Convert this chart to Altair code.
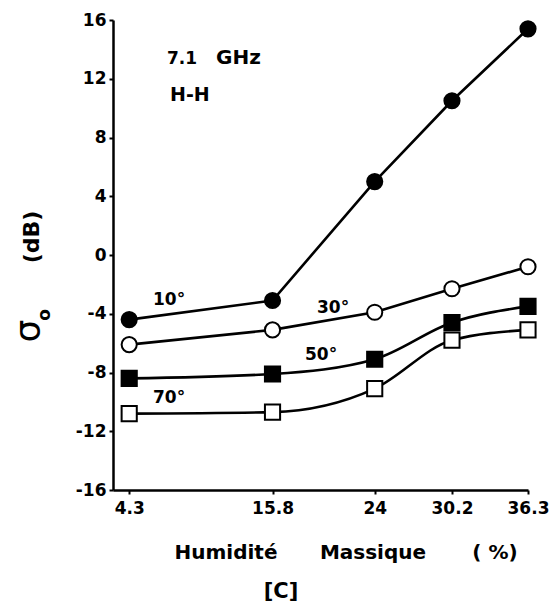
import altair as alt
import pandas as pd

# Data
x_vals = [4.3, 15.8, 24, 30.2, 36.3]
s10 = [-4.4, -3.1, 5.0, 10.5, 15.4]
s30 = [-6.1, -5.1, -3.9, -2.3, -0.8]
s50 = [-8.4, -8.1, -7.1, -4.6, -3.5]
s70 = [-10.8, -10.7, -9.1, -5.8, -5.1]
series_names = ["10°", "30°", "50°", "70°"]
y_ticks = [-16, -12, -8, -4, 0, 4, 8, 12, 16]

rows = []
for name, vals in zip(series_names, [s10, s30, s50, s70]):
    for xv, yv in zip(x_vals, vals):
        rows.append({"series": name, "x": xv, "y": yv})
df = pd.DataFrame(rows)

FONT = "DejaVu Sans"

xenc = alt.X("x:Q", scale=alt.Scale(domain=[3.0, 36.3], nice=False, zero=False),
             axis=alt.Axis(values=x_vals, format=".1~f", title=None, labelPadding=6,
                           labelFlush=False))
yenc = alt.Y("y:Q", scale=alt.Scale(domain=[-16, 16], nice=False, zero=False),
             axis=alt.Axis(values=y_ticks, labelExpr="'' + datum.value", title=None,
                           labelPadding=3, labelFlush=False))

base = alt.Chart(df)

interp = {"10°": "linear", "30°": "linear", "50°": "monotone", "70°": "monotone"}
lines = [
    base.transform_filter(alt.datum.series == s)
    .mark_line(color="black", strokeWidth=2.6, interpolate=interp[s])
    .encode(x=xenc, y=yenc)
    for s in series_names
]

points = base.mark_point(filled=True, stroke="black", strokeWidth=2, size=230, opacity=1).encode(
    x=xenc, y=yenc,
    shape=alt.Shape("series:N", scale=alt.Scale(domain=series_names,
                    range=["circle", "circle", "square", "square"]), legend=None),
    fill=alt.Fill("series:N", scale=alt.Scale(domain=series_names,
                  range=["black", "white", "black", "white"]), legend=None),
)


def label(text, px, py, size=17, angle=0, align="left", baseline="middle", weight="bold"):
    return alt.Chart(pd.DataFrame({"t": [text]})).mark_text(
        font=FONT, fontWeight=weight, fontSize=size, color="black",
        align=align, baseline=baseline, angle=angle,
    ).encode(x=alt.value(px), y=alt.value(py), text="t:N")


annots = [
    label("7.1", 54, 39, size=17),
    label("GHz", 103, 38, size=20),
    label("H-H", 57, 75, size=19),
    label("10°", 40, 280, size=17),
    label("30°", 204, 288, size=17),
    label("50°", 192, 335, size=17),
    label("70°", 40, 378, size=17),
    label("σ", -84, 311, size=36, angle=270, align="center", weight="normal"),
    label("o", -68, 295, size=17, angle=270, align="center"),
    label("(dB)", -81, 217, size=22, angle=270, align="center"),
    label("Humidité", 113, 533, size=20, align="center"),
    label("Massique", 260, 533, size=20, align="center"),
    label("( %)", 382, 533, size=20, align="center"),
    label("[C]", 168, 572, size=21, align="center"),
]

chart = alt.layer(*lines, points, *annots).properties(
    width=415, height=470,
    padding={"left": 105, "top": 12, "right": 22, "bottom": 113},
    autosize=alt.AutoSizeParams(type="none"),
).configure_view(stroke=None).configure_axis(
    domainColor="black", domainWidth=2.5, tickColor="black", tickWidth=2, tickSize=4,
    labelFont=FONT, labelFontWeight="bold", labelFontSize=17, labelColor="black", grid=False,
)

chart.save("out.html", embed_options={"renderer": "svg", "actions": False})
